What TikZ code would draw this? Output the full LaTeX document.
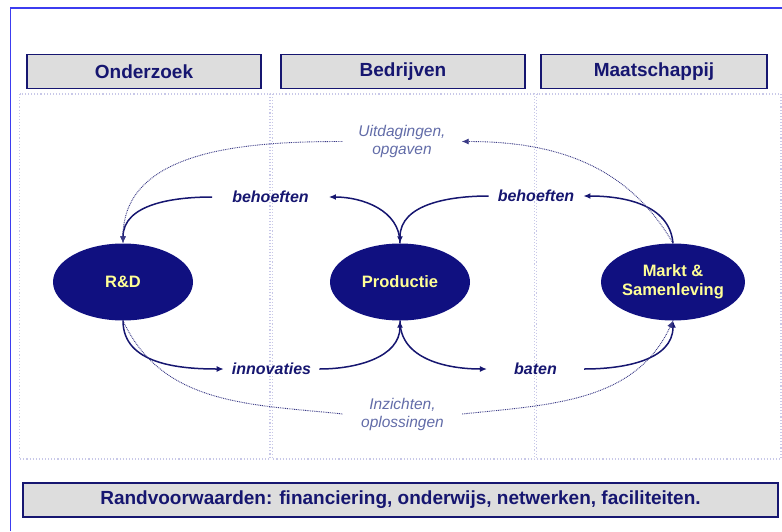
\documentclass[tikz,border=0pt]{standalone}
\usepackage{fontspec}
\setmainfont{Liberation Sans}
\usepackage{tikz}
\usetikzlibrary{arrows.meta,shapes.geometric}

\definecolor{inkblue}{RGB}{22,22,112}
\definecolor{blobfill}{RGB}{16,16,128}
\definecolor{lemon}{RGB}{255,255,150}
\definecolor{headgray}{RGB}{221,221,221}
\definecolor{slate}{RGB}{98,108,168}
\definecolor{framebl}{RGB}{60,60,240}
\definecolor{panelln}{RGB}{200,200,232}

\begin{document}
\begin{tikzpicture}[x=1pt,y=-1pt,
 head/.style={draw=inkblue,line width=1.4pt,fill=headgray,text=inkblue,font=\fontsize{19}{22}\selectfont\bfseries,minimum height=34pt,inner sep=0pt},
 blob/.style={ellipse,fill=blobfill,text=lemon,align=center,minimum width=140pt,minimum height=77pt,inner sep=0pt,font=\fontsize{16.5}{19}\selectfont\bfseries},
 lbl/.style={text=inkblue,inner ysep=0pt,font=\fontsize{16}{19}\selectfont\bfseries\itshape},
 note/.style={text=slate,align=center,inner ysep=0pt,font=\fontsize{15.5}{18}\selectfont\itshape},
 panel/.style={draw=panelln,line width=1.1pt,dotted},
 arr/.style={-{Latex[length=7pt,width=6pt]},draw=inkblue,line width=1.5pt},
 darr/.style={-{Latex[length=7pt,width=6pt]},draw=inkblue!85,line width=0.9pt,dash pattern=on 0.9pt off 0.9pt}]
 \useasboundingbox (0,0) rectangle (782,531);
 \draw[framebl,line width=1.4pt] (10.5,531) |- (782,8);
 \draw[panel] (19.5,94) rectangle (270,459);
 \draw[panel] (272.5,94) rectangle (534.5,459);
 \draw[panel] (536.5,94) rectangle (781,459);
 \node[head,minimum width=234pt] (onderzoek) at (144,71.5) {Onderzoek};
 \node[head,minimum width=244pt] (bedrijven) at (403,71.5) {Bedrijven};
 \node[head,minimum width=226pt] (maatsch) at (654,71.5) {Maatschappij};
 \node[head,minimum width=755pt] (rand) at (400.5,500) {Randvoorwaarden: financiering, onderwijs, netwerken, faciliteiten.};
 \node[blob] (rd) at (123,282) {R\&D};
 \node[blob] (prod) at (400,282) {Productie};
 \node[blob] (markt) at (673,282) {Markt \&\\Samenleving};
 \node[lbl,inner xsep=20pt] (behl) at (270.5,197) {behoeften};
 \node[lbl,inner xsep=9pt] (behr) at (536,196) {behoeften};
 \node[lbl,inner xsep=8pt] (innov) at (271.5,369) {innovaties};
 \node[lbl,inner xsep=27pt] (baten) at (535.5,369) {baten};
 \node[note,inner xsep=16pt] (uitd) at (402,141.5) {Uitdagingen,\\opgaven};
 \node[note,inner xsep=18pt] (inz) at (402.5,414) {Inzichten,\\oplossingen};
 \draw[arr] (behl.west) to[out=180,in=90] (rd.north);
 \draw[arr] (prod.north) to[out=90,in=0] (behl.east);
 \draw[arr] (behr.west) to[out=180,in=90] (prod.north);
 \draw[arr] (markt.north) to[out=95,in=0] (behr.east);
 \draw[arr] (rd.south) to[out=-90,in=180] (innov.west);
 \draw[arr] (innov.east) to[out=0,in=-90] (prod.south);
 \draw[arr] (prod.south) to[out=-90,in=180] (baten.west);
 \draw[arr] (baten.east) to[out=0,in=-90] (markt.south);
 \draw[darr] (uitd.west) to[out=180,in=90] (rd.north);
 \draw[darr] (markt.north) to[out=120,in=0] (uitd.east);
 \draw[darr,-] (rd.south) to[out=-65,in=174] (inz.west);
 \draw[darr] (inz.east) to[out=6,in=-115] (markt.south);
\end{tikzpicture}
\end{document}
